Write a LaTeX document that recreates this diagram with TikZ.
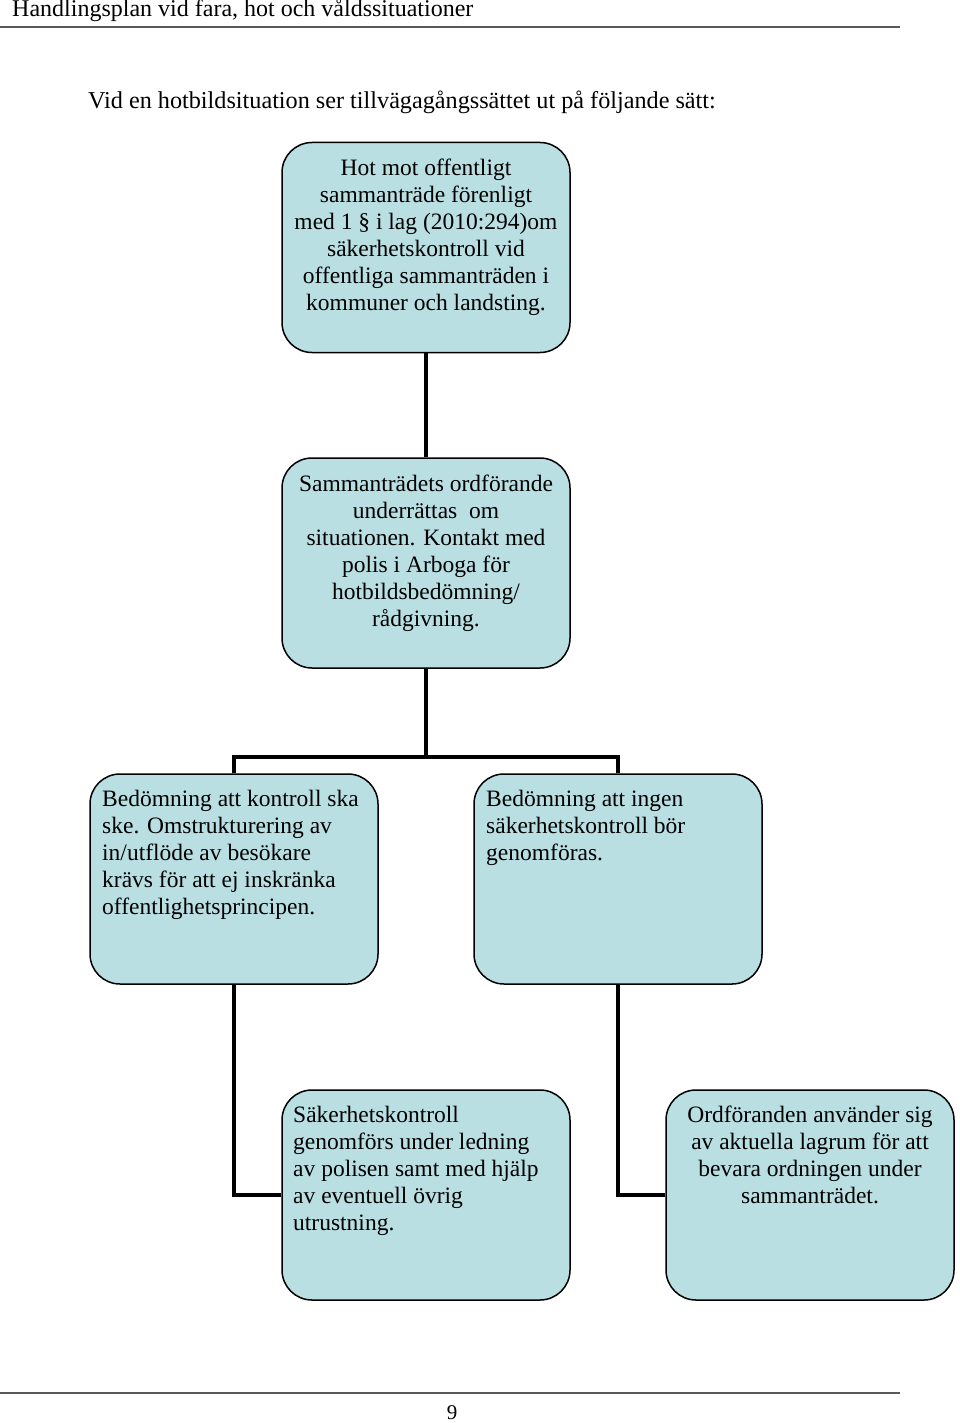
\documentclass[tikz,border=0pt]{standalone}
\usepackage{fontspec}
\setmainfont{Liberation Serif}
\definecolor{boxfill}{RGB}{185,223,227}
\definecolor{rulegrey}{RGB}{90,90,90}
\begin{document}
\begin{tikzpicture}[x=1pt,y=-1pt,
  boxst/.style={draw=black, line width=1.5pt, fill=boxfill, rounded corners=30pt,
    minimum width=288pt, minimum height=210pt, inner sep=0pt},
  txt/.style={inner sep=0pt, font=\fontsize{23.5}{27}\selectfont},
  conn/.style={draw=black, line width=4pt}]
\useasboundingbox (0,0) rectangle (960,1423);
% header / footer
\node[anchor=base west, inner sep=0pt, font=\fontsize{24}{26}\selectfont] (hdr) at (12,17) {Handlingsplan vid fara, hot och våldssituationer};
\coordinate (hl) at (0,27); \coordinate (hr) at (900,27);
\draw[rulegrey, line width=2pt] (hl) -- (hr);
\coordinate (fl) at (0,1393); \coordinate (fr) at (900,1393);
\draw[rulegrey, line width=2pt] (fl) -- (fr);
\node[anchor=base, inner sep=0pt, font=\fontsize{21}{24}\selectfont] (pg) at (452,1419) {9};
\node[anchor=base west, inner sep=0pt, font=\fontsize{24.2}{27}\selectfont] (intro) at (88,109) {Vid en hotbildsituation ser tillvägagångssättet ut på följande sätt:};
% boxes
\node[boxst] (b1) at (426,247.5) {};
\node[boxst] (b2) at (426,563) {};
\node[boxst] (b3) at (234,879) {};
\node[boxst] (b4) at (618,879) {};
\node[boxst] (b5) at (426,1195) {};
\node[boxst] (b6) at (810,1195) {};
% texts
\node[txt, align=center, anchor=north] (t1) at (426,159) {Hot mot offentligt\\ sammanträde förenligt\\ med 1 § i lag (2010:294)om\\ säkerhetskontroll vid\\ offentliga sammanträden i\\ kommuner och landsting.};
\node[txt, align=center, anchor=north] (t2) at (426,475) {Sammanträdets ordförande\\ underrättas~ om\\ situationen. Kontakt med\\ polis i Arboga för\\ hotbildsbedömning/\\ rådgivning.};
\node[txt, align=left, anchor=north west] (t3) at (102,790) {Bedömning att kontroll ska\\ ske. Omstrukturering av\\ in/utflöde av besökare\\ krävs för att ej inskränka\\ offentlighetsprincipen.};
\node[txt, align=left, anchor=north west] (t4) at (486,790) {Bedömning att ingen\\ säkerhetskontroll bör\\ genomföras.};
\node[txt, align=left, anchor=north west] (t5) at (293,1106) {Säkerhetskontroll\\ genomförs under ledning\\ av polisen samt med hjälp\\ av eventuell övrig\\ utrustning.};
\node[txt, align=center, anchor=north] (t6) at (810,1106) {Ordföranden använder sig\\ av aktuella lagrum för att\\ bevara ordningen under\\ sammanträdet.};
% connectors
\coordinate (j) at (426,757);
\draw[conn] (b1.south) -- (b2.north);
\draw[conn] (b2.south) -- (j);
\draw[conn] (b3.north) |- (j) -| (b4.north);
\draw[conn] (b3.south) |- (b5.west);
\draw[conn] (b4.south) |- (b6.west);
\end{tikzpicture}
\end{document}
